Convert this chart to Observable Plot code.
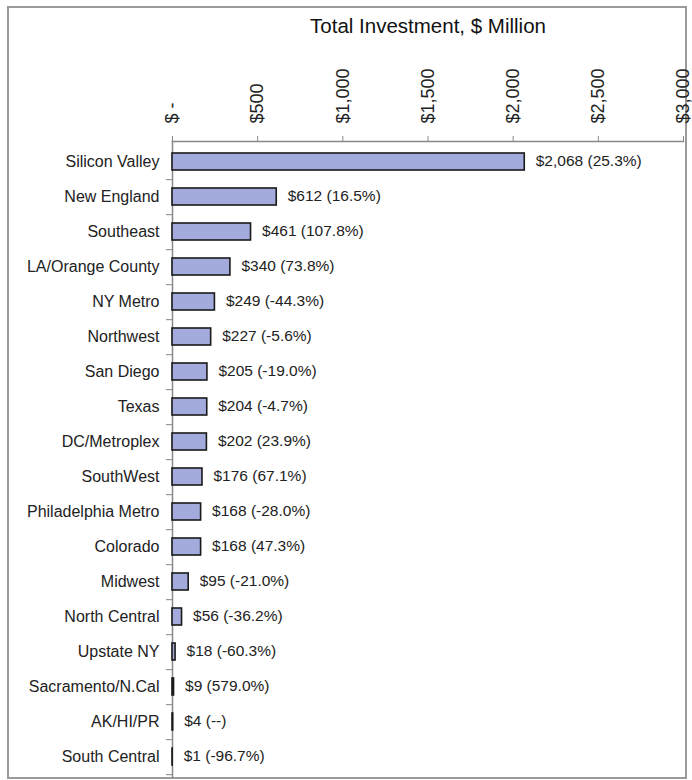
<!DOCTYPE html>
<html>
<head>
<meta charset="utf-8">
<script src="https://cdn.jsdelivr.net/npm/d3@7"></script>
<script src="https://cdn.jsdelivr.net/npm/@observablehq/plot@0.6"></script>
<style>
  html, body { margin: 0; padding: 0; background: #fff; }
  #wrap { position: relative; width: 692px; height: 780px; }
  #border { position: absolute; left: 7px; top: 6px; width: 676px; height: 769px; border: 2px solid #9a9a9a; pointer-events: none; z-index: 0; }
  svg { position: relative; z-index: 1; font-family: "Liberation Sans", Arial, sans-serif; }
</style>
</head>
<body>
<div id="wrap"><div id="border"></div></div>
<script>
const title = "Total Investment, $ Million";
const categories = ["Silicon Valley", "New England", "Southeast", "LA/Orange County", "NY Metro", "Northwest", "San Diego", "Texas", "DC/Metroplex", "SouthWest", "Philadelphia Metro", "Colorado", "Midwest", "North Central", "Upstate NY", "Sacramento/N.Cal", "AK/HI/PR", "South Central"];
const values = [2068, 612, 461, 340, 249, 227, 205, 204, 202, 176, 168, 168, 95, 56, 18, 9, 4, 1];
const changes = [25.3, 16.5, 107.8, 73.8, -44.3, -5.6, -19.0, -4.7, 23.9, 67.1, -28.0, 47.3, -21.0, -36.2, -60.3, 579.0, null, -96.7];
const xTicks = [0, 500, 1000, 1500, 2000, 2500, 3000];

const fmtPct = v => (v < 0 ? "-" : "") + Math.abs(v).toFixed(1) + "%";
const data = categories.map((c, i) => ({
  category: c,
  value: values[i],
  label: "$" + d3.format(",")(values[i]) + " (" + (changes[i] == null ? "--" : fmtPct(changes[i])) + ")"
}));

const W = 692, H = 780, mTop = 141, mBottom = 3, mLeft = 172, mRight = 9;
const step = (H - mTop - mBottom) / categories.length;

const chart = Plot.plot({
  width: W,
  height: H,
  marginTop: mTop,
  marginBottom: mBottom,
  marginLeft: mLeft,
  marginRight: mRight,
  style: { fontFamily: "'Liberation Sans', Arial, sans-serif", background: "transparent", overflow: "visible" },
  x: { domain: [0, 3000], axis: null },
  y: { domain: categories, paddingInner: 0.52, paddingOuter: 0.26, axis: null },
  marks: [
    Plot.text([title], { frameAnchor: "top", lineAnchor: "bottom", dy: -109, fontSize: 20.5, fill: "#111" }),
    Plot.axisX({
      anchor: "top", ticks: xTicks,
      tickFormat: d => d === 0 ? "$ -" : "$" + d3.format(",")(d),
      tickRotate: -90, tickSize: 6, tickPadding: 12, fontSize: 18,
      stroke: "#888", fill: "#222", label: null
    }),
    Plot.axisY({ anchor: "left", tickSize: 0, tickPadding: 13, fontSize: 16, fill: "#222", label: null, style: "letter-spacing:0.2px" }),
    Plot.axisY({ anchor: "left", tickSize: 6, tickFormat: () => "", stroke: "#888", dy: step / 2, label: null }),
    Plot.frame({ anchor: "top", stroke: "#888", strokeWidth: 1.5 }),
    Plot.frame({ anchor: "left", stroke: "#888", strokeWidth: 1.5 }),
    Plot.barX(data, { x: "value", y: "category", fill: "#A2ABDC", stroke: "#1a1a1a", strokeWidth: 1.6 }),
    Plot.text(data, { x: "value", y: "category", text: "label", dx: 11, dy: -1, textAnchor: "start", fontSize: 15.5, fill: "#222", style: "letter-spacing:0.5px" })
  ]
});
document.getElementById("wrap").prepend(chart);
</script>
</body>
</html>
